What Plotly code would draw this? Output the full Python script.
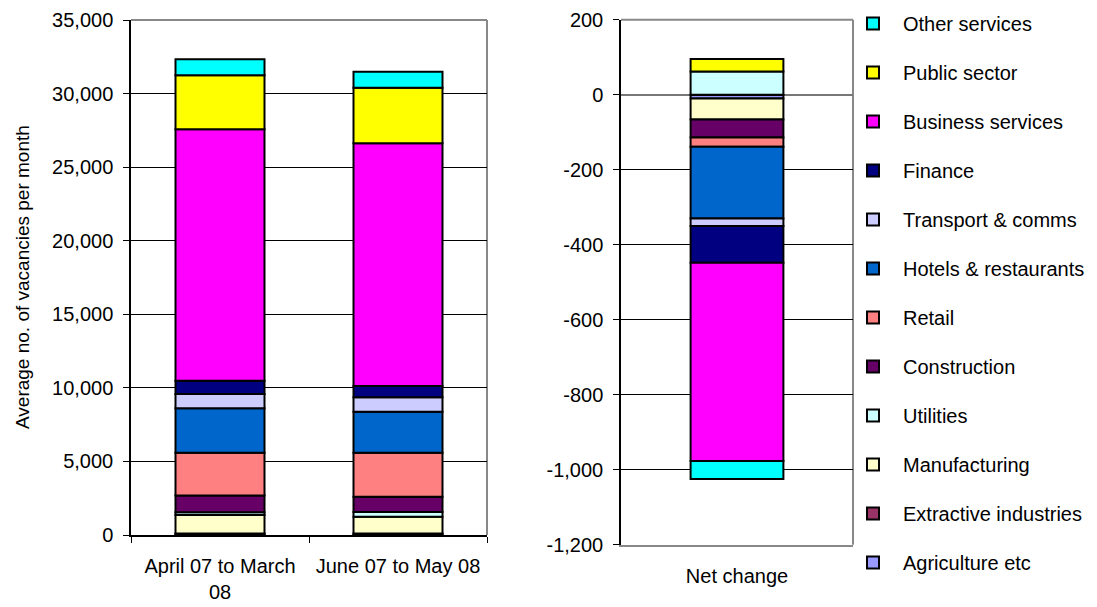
import plotly.graph_objects as go

# Sectors in stacking order (bottom to top)
sectors = ["Agriculture etc", "Extractive industries", "Manufacturing", "Utilities",
           "Construction", "Retail", "Hotels & restaurants", "Transport & comms",
           "Finance", "Business services", "Public sector", "Other services"]
colors = ["#9999FF", "#993366", "#FFFFCC", "#CCFFFF", "#660066", "#FF8080",
          "#0066CC", "#CCCCFF", "#000080", "#FF00FF", "#FFFF00", "#00FFFF"]

periods = ["April 07 to March<br>08", "June 07 to May 08"]
period1 = [40, 60, 1260, 180, 1150, 2900, 3020, 970, 900, 17100, 3670, 1090]
period2 = [40, 60, 1140, 320, 1040, 2990, 2790, 980, 770, 16490, 3780, 1090]

net_label = ["Net change"]
net_change = [-10, 0, -56, 62, -48, -25, -191, -20, -98, -529, 33, -48]

left_tickvals = [0, 5000, 10000, 15000, 20000, 25000, 30000, 35000]
left_ticktext = ["0", "5,000", "10,000", "15,000", "20,000", "25,000", "30,000", "35,000"]
right_tickvals = [-1200, -1000, -800, -600, -400, -200, 0, 200]
right_ticktext = ["-1,200", "-1,000", "-800", "-600", "-400", "-200", "0", "200"]

FONT = "Liberation Sans, Arial, sans-serif"
W, H = 1097, 607
n = len(sectors)

fig = go.Figure()
for i, s in enumerate(sectors):
    fig.add_trace(go.Bar(
        x=periods, y=[period1[i], period2[i]], name=s, legendgroup=s,
        legendrank=1000 - i,
        marker=dict(color=colors[i], line=dict(color="#000000", width=2)),
        width=0.5, xaxis="x", yaxis="y", showlegend=True))
for i, s in enumerate(sectors):
    fig.add_trace(go.Bar(
        x=net_label, y=[net_change[i]], name=s, legendgroup=s,
        legendrank=1000 - i,
        marker=dict(color=colors[i], line=dict(color="#000000", width=2)),
        width=0.4, xaxis="x2", yaxis="y2", showlegend=False))

def px_x(p):
    return p / W

def px_y(p):
    return (H - p) / H

tickfont = dict(family=FONT, size=20, color="#000")

fig.update_layout(
    width=W, height=H, barmode="relative",
    paper_bgcolor="white", plot_bgcolor="white",
    margin=dict(l=0, r=0, t=0, b=0),
    font=dict(family=FONT, size=20, color="#000"),
    xaxis=dict(domain=[px_x(131), px_x(487)], anchor="y", tickson="boundaries",
               ticks="outside", ticklen=6, tickcolor="#000", showline=True,
               linecolor="#000", linewidth=1.5, tickfont=tickfont, ticklabelstandoff=12,
               showgrid=False, automargin=False),
    yaxis=dict(domain=[px_y(535), px_y(20)], anchor="x", range=[0, 35000],
               tickmode="array", tickvals=left_tickvals, ticktext=left_ticktext,
               ticks="outside", ticklen=6, tickcolor="#000", showline=True,
               linecolor="#000", linewidth=1.5, tickfont=tickfont, ticklabelstandoff=6,
               showgrid=True, gridcolor="#000", gridwidth=1,
               zeroline=False, automargin=False),
    xaxis2=dict(domain=[px_x(621), px_x(853)], anchor="y2", tickson="boundaries",
                showgrid=False, automargin=False, ticks="", showline=True,
                linecolor="#888", linewidth=2, tickfont=tickfont, ticklabelstandoff=12),
    yaxis2=dict(domain=[px_y(544.7), px_y(19.7)], anchor="x2", range=[-1200, 200],
                tickmode="array", tickvals=right_tickvals, ticktext=right_ticktext,
                ticks="outside", ticklen=6, tickcolor="#000", showline=True,
                linecolor="#000", linewidth=1.5, tickfont=tickfont, ticklabelstandoff=6,
                showgrid=True, gridcolor="#000", gridwidth=1,
                zeroline=True, zerolinecolor="#777", zerolinewidth=2,
                automargin=False),
    legend=dict(x=px_x(843), y=px_y(4), xanchor="left", yanchor="top",
                traceorder="grouped", tracegroupgap=20, itemwidth=50,
                font=dict(family=FONT, size=20, color="#000"),
                bgcolor="rgba(0,0,0,0)"),
    showlegend=True,
)

# gray plot-area frame on top and right of each chart
for xr, yr in [("x domain", "y domain"), ("x2 domain", "y2 domain")]:
    fig.add_shape(type="line", xref=xr, yref=yr, x0=0, x1=1, y0=1, y1=1,
                  line=dict(color="#888", width=2), layer="below")
    fig.add_shape(type="line", xref=xr, yref=yr, x0=1, x1=1, y0=0, y1=1,
                  line=dict(color="#888", width=2), layer="below")

fig.add_annotation(text="Average no. of vacancies per month", textangle=-90,
                   xref="paper", yref="paper", x=px_x(22), y=px_y(277),
                   xanchor="center", yanchor="middle",
                   showarrow=False, font=dict(family=FONT, size=19, color="#000"))

fig.write_html("out.html")
